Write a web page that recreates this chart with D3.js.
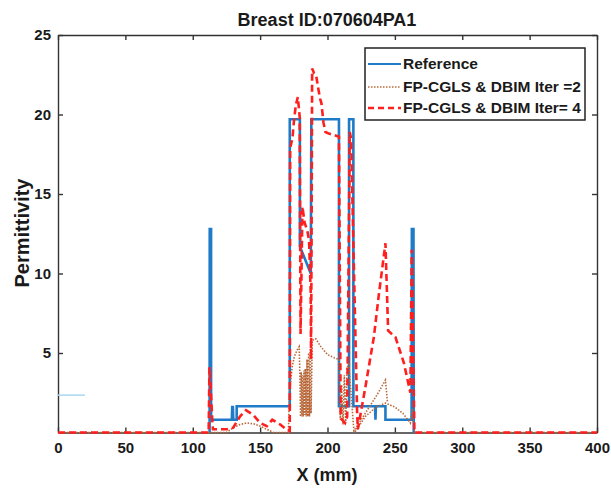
<!DOCTYPE html>
<html>
<head>
<meta charset="utf-8">
<script src="https://cdn.jsdelivr.net/npm/d3@7"></script>
<style>
  body { margin: 0; background: #fff; }
  svg text { font-family: "Liberation Sans", Arial, sans-serif; font-weight: bold; fill: #1a1a1a; }
</style>
</head>
<body>
<svg id="chart"></svg>
<script>
// axis ticks
const xTicks = [0, 50, 100, 150, 200, 250, 300, 350, 400];
const yTicks = [5, 10, 15, 20, 25];

// reference profile (step shape)
const referencePts = [
  [112.5, 0], [112.6, 12.8], [113.6, 12.8], [113.6, 0.8], [129.0, 0.8], [129.3, 1.6], [129.8, 1.6],
  [130.1, 0.8], [132.6, 0.8], [132.6, 1.65], [172.0, 1.65], [172.0, 19.7], [179.5, 19.7],
  [179.5, 11.7], [187.6, 10.0], [188.0, 19.7], [208.5, 19.7], [208.5, 1.65], [216.0, 1.65],
  [216.0, 19.7], [219.2, 19.7], [219.2, 1.65], [235.3, 1.65], [235.6, 0.8], [235.9, 1.65],
  [243.0, 1.65], [243.0, 0.8], [262.4, 0.8], [262.6, 12.8], [263.8, 12.8], [264.0, 0]
];

// FP-CGLS & DBIM Iter = 2 (null = gap)
const iter2Pts = [
  [0, 0], [125, 0], [130, 0.3], [135, 0.5], [140, 0.6], [145, 0.55], [150, 0.4], [155, 0.2],
  [160, 0], [171, 0], [171.6, 2.0], [172.5, 3.0], [173.7, 4.1], [175.5, 4.8], [177.5, 5.2],
  [179.0, 5.4], [179.5, 3.7], [180.0, 1.0], [180.5, 3.8], [181.0, 1.0], [181.5, 3.6], [182.0, 1.0],
  [182.5, 3.9], [183.0, 1.1], [183.5, 4.0], [184.2, 1.0], [184.8, 4.6], [185.4, 1.0], [186.0, 5.0],
  [186.6, 1.0], [187.2, 5.3], [187.8, 1.2], [188.7, 5.8], [191.3, 5.9], [195, 5.4], [200, 4.9],
  [205, 4.7], [208.5, 4.6], [209.0, 3.1], [209.5, 0.8], [210.5, 3.0], [211.5, 0.5], [212.5, 3.6],
  [213.5, 0.6], [214.5, 4.0], [215.7, 4.4], [219.6, 0.1], [231, 1.6], [237, 2.4], [243, 3.3],
  [244.5, 1.9], null,
  [220.5, 0.05], [228, 1.0], [236, 1.6], [243, 1.85], [250, 1.6], [256, 1.2], [261.5, 0.6],
  [263, 1.5], [264.5, 0], [400, 0]
];

// FP-CGLS & DBIM Iter = 4
const iter4Pts = [
  [0, 0], [111.8, 0], [112.4, 4.1], [113.2, 3.0], [114.6, 0.6], [115, 0.2], [125, 0.2],
  [130, 0.3], [135, 1.0], [139.5, 1.4], [145, 1.1], [150, 0.6], [155, 0.4], [159, 0.8],
  [165, 0.5], [170, 0.15], [172, 0.1], [172.3, 17.9], [174, 18.5], [175, 19.5], [176.5, 20.6],
  [178, 21.1], [179.4, 19.8], [180.0, 6.2], [180.6, 9.5], [181.4, 14.2], [183, 13.2], [185, 12.7],
  [186.3, 12.1], [187.0, 10.2], [187.5, 9.0], [187.8, 4.6], [188.3, 15.0], [188.6, 22.9],
  [190, 22.6], [191.5, 22.5], [193, 21.7], [194.5, 21.0], [195.5, 20.7], [197, 19.5],
  [198.5, 18.9], [201, 18.8], [205, 18.7], [208.5, 18.6], [209.8, 0.9], [213, 0.6], [214.6, 1.0],
  [216.5, 18.9], [217.5, 18.5], [222, 1.2], [222.5, 0.2], [228, 2.8], [234.4, 6.0], [238, 8.6],
  [243, 11.9], [245, 6.4], [250.4, 6.0], [256.6, 4.4], [261.5, 2.5], [262.5, 11.5], [264.5, 0],
  [400, 0]
];

// short faint segment at the left edge
const faintPts = [[0, 2.35], [20, 2.35]];

const legendLabels = ["Reference", "FP-CGLS & DBIM Iter =2", "FP-CGLS & DBIM Iter= 4"];

class ProfilePlot {
  constructor(_config) {
    this.config = {
      parentElement: _config.parentElement,
      containerWidth: 611,
      containerHeight: 489,
      margin: { top: 35, right: 14, bottom: 56.5, left: 58 }
    };
    this.initVis();
  }

  initVis() {
    let vis = this;

    vis.width = vis.config.containerWidth - vis.config.margin.left - vis.config.margin.right;
    vis.height = vis.config.containerHeight - vis.config.margin.top - vis.config.margin.bottom;

    vis.svg = d3.select(vis.config.parentElement)
      .attr("width", vis.config.containerWidth)
      .attr("height", vis.config.containerHeight);

    vis.chart = vis.svg.append("g")
      .attr("transform", `translate(${vis.config.margin.left},${vis.config.margin.top})`);

    vis.xScale = d3.scaleLinear().domain([0, 400]).range([0, vis.width]);
    vis.yScale = d3.scaleLinear().domain([0, 25]).range([vis.height, 0]);

    // matlab style: ticks pointing inward, on all four sides
    vis.xAxis = d3.axisBottom(vis.xScale).tickValues(xTicks).tickSizeInner(-5).tickSizeOuter(0).tickPadding(10);
    vis.yAxis = d3.axisLeft(vis.yScale).tickValues(yTicks).tickSizeInner(-5).tickSizeOuter(0).tickPadding(7);
    vis.xAxisTop = d3.axisTop(vis.xScale).tickValues(xTicks).tickSizeInner(-5).tickSizeOuter(0).tickFormat("");
    vis.yAxisRight = d3.axisRight(vis.yScale).tickValues(yTicks).tickSizeInner(-5).tickSizeOuter(0).tickFormat("");

    vis.chart.append("g").attr("class", "axis").attr("transform", `translate(0,${vis.height})`).call(vis.xAxis);
    vis.chart.append("g").attr("class", "axis").call(vis.yAxis);
    vis.chart.append("g").attr("class", "axis").call(vis.xAxisTop);
    vis.chart.append("g").attr("class", "axis").attr("transform", `translate(${vis.width},0)`).call(vis.yAxisRight);

    vis.chart.selectAll(".axis path").attr("stroke", "#333").attr("stroke-width", 1.4);
    vis.chart.selectAll(".axis line").attr("stroke", "#333").attr("stroke-width", 1.4);
    vis.chart.selectAll(".axis text").style("font-size", "15px").attr("fill", "#1a1a1a");

    // titles
    vis.svg.append("text")
      .attr("x", 327).attr("y", 26)
      .attr("text-anchor", "middle")
      .style("font-size", "18px")
      .text("Breast ID:070604PA1");

    vis.svg.append("text")
      .attr("x", 327).attr("y", 481)
      .attr("text-anchor", "middle")
      .style("font-size", "18px")
      .text("X (mm)");

    vis.svg.append("text")
      .attr("transform", "translate(29,233) rotate(-90)")
      .attr("text-anchor", "middle")
      .style("font-size", "20px")
      .text("Permittivity");

    vis.renderVis();
  }

  renderVis() {
    let vis = this;

    const line = d3.line()
      .defined(d => d !== null)
      .x(d => vis.xScale(d[0]))
      .y(d => vis.yScale(d[1]));

    vis.chart.append("path").datum(faintPts)
      .attr("d", line).attr("fill", "none")
      .attr("stroke", "#a9d8f2").attr("stroke-width", 1.5);

    vis.chart.append("path").datum(referencePts)
      .attr("d", line).attr("fill", "none")
      .attr("stroke", "#1f7bc8").attr("stroke-width", 2.6)
      .attr("stroke-linejoin", "miter");

    vis.chart.append("path").datum(iter2Pts)
      .attr("d", line).attr("fill", "none")
      .attr("stroke", "#b8683a").attr("stroke-width", 1.6)
      .attr("stroke-dasharray", "1.5,1.5");

    vis.chart.append("path").datum(iter4Pts)
      .attr("d", line).attr("fill", "none")
      .attr("stroke", "#ff1f1f").attr("stroke-width", 2.6)
      .attr("stroke-dasharray", "7,4");

    // legend
    const legend = vis.svg.append("g").attr("transform", "translate(365,48)");
    legend.append("rect")
      .attr("width", 220).attr("height", 72)
      .attr("fill", "#fff").attr("stroke", "#222").attr("stroke-width", 1.5);

    const styles = [
      { stroke: "#1f7bc8", width: 2.2, dash: null },
      { stroke: "#b8683a", width: 1.6, dash: "1.5,1.5" },
      { stroke: "#ff1f1f", width: 2.6, dash: "6,4" }
    ];
    const rowY = [16, 39, 60];

    legendLabels.forEach((label, i) => {
      legend.append("line")
        .attr("x1", 3).attr("x2", 36)
        .attr("y1", rowY[i]).attr("y2", rowY[i])
        .attr("stroke", styles[i].stroke)
        .attr("stroke-width", styles[i].width)
        .attr("stroke-dasharray", styles[i].dash);
      legend.append("text")
        .attr("x", 38).attr("y", rowY[i] + 5)
        .style("font-size", "15.5px")
        .text(label);
    });
  }
}

const plot = new ProfilePlot({ parentElement: "#chart" });
</script>
</body>
</html>
